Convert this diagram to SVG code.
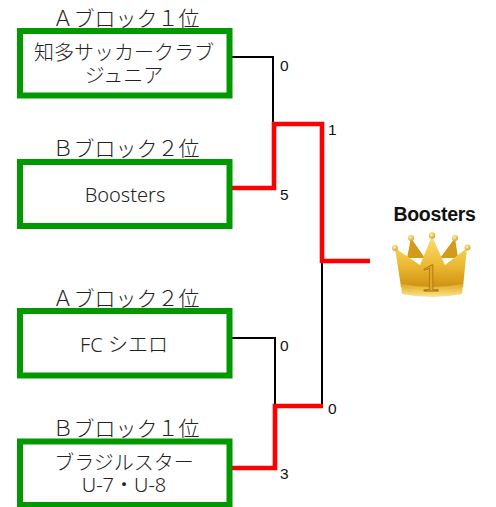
<svg xmlns="http://www.w3.org/2000/svg" width="496" height="507" viewBox="0 0 496 507">
<defs>
<style>
.box{fill:#fff;stroke:#009900;stroke-width:6}
.lbl{font-family:"Noto Sans","Noto Sans CJK JP",sans-serif;font-size:21px;font-weight:300;fill:#222;text-anchor:middle}
.tx{font-family:"Noto Sans","Noto Sans CJK JP",sans-serif;font-size:20px;font-weight:300;fill:#222;text-anchor:middle}
.sc{font-family:"Liberation Sans",Arial,sans-serif;font-size:15.5px;fill:#111}
.blk{fill:none;stroke:#000;stroke-width:2}
.red{fill:none;stroke:#ff0000;stroke-width:4.6;stroke-linejoin:miter}
.ball{fill:url(#ball)}
</style>
<linearGradient id="gold" x1="0" y1="0" x2="0" y2="1">
<stop offset="0" stop-color="#fbe07a"/>
<stop offset="0.55" stop-color="#edbb34"/>
<stop offset="1" stop-color="#cf9212"/>
</linearGradient>
<linearGradient id="band" x1="0" y1="0" x2="0" y2="1">
<stop offset="0" stop-color="#e2a823"/>
<stop offset="1" stop-color="#fbe48e"/>
</linearGradient>
<radialGradient id="ball" cx="0.4" cy="0.35" r="0.7">
<stop offset="0" stop-color="#fff2b0"/>
<stop offset="1" stop-color="#d89e1a"/>
</radialGradient>
</defs>
<rect width="496" height="507" fill="#fff"/>

<g id="connectors">
<polyline class="blk" points="232,57 273,57 273,124"/>
<polyline class="blk" points="232,338 275,338 275,406"/>
<polyline class="blk" points="322,261 322,406"/>
<polyline class="red" points="232,188 274,188 274,124 322,124 322,261 370,261"/>
<polyline class="red" points="232,468 275,468 275,406 323,406"/>
</g>

<g id="scores">
<text class="sc" x="280" y="70.5">0</text>
<text class="sc" x="328" y="135">1</text>
<text class="sc" x="280" y="200">5</text>
<text class="sc" x="280" y="350.5">0</text>
<text class="sc" x="328" y="414">0</text>
<text class="sc" x="280" y="479">3</text>
</g>

<g id="node-a1">
<text class="lbl" x="126" y="26">Ａブロック１位</text>
<rect class="box" x="20" y="31" width="209.5" height="64.5"/>
<text class="tx"><tspan x="124" y="60">知多サッカークラブ</tspan><tspan x="124" y="83">ジュニア</tspan></text>
</g>

<g id="node-b2">
<text class="lbl" x="126" y="156">Ｂブロック２位</text>
<rect class="box" x="20" y="162" width="209.5" height="64"/>
<text class="tx" x="125" y="201.5">Boosters</text>
</g>

<g id="node-a2">
<text class="lbl" x="126" y="306">Ａブロック２位</text>
<rect class="box" x="20" y="311" width="209.5" height="64.5"/>
<text class="tx" x="124" y="351.5">FC シエロ</text>
</g>

<g id="node-b1">
<text class="lbl" x="126" y="436">Ｂブロック１位</text>
<rect class="box" x="20" y="441.5" width="209.5" height="63.5"/>
<text class="tx"><tspan x="124" y="470">ブラジルスター</tspan><tspan x="124" y="492">U-7・U-8</tspan></text>
</g>

<g id="winner">
<text x="434.5" y="220.5" font-family="Liberation Sans, Arial, sans-serif" font-size="19.5" font-weight="bold" fill="#111" text-anchor="middle" letter-spacing="-0.3">Boosters</text>
<g id="crown">
<path d="M407,258 L411,238 L425,258 Z M440,258 L455,238 L458,258 Z" fill="#d39a1c"/>
<path d="M401,287 L395,248 L420,265 L432,236 L445,265 L467,248 L463,287 Z" fill="url(#gold)"/>
<path d="M401,284 Q432,290 463,284 L462,294 Q432,300 402,294 Z" fill="url(#band)"/>
<circle class="ball" cx="395" cy="248" r="3"/>
<circle class="ball" cx="411" cy="238" r="3"/>
<circle class="ball" cx="432" cy="235.5" r="3.2"/>
<circle class="ball" cx="455" cy="238" r="3"/>
<circle class="ball" cx="467.5" cy="247.5" r="3"/>
<text x="430.5" y="291" font-family="Liberation Serif, Times New Roman, serif" font-size="40" fill="#e2aa28" stroke="#a97508" stroke-width="0.8" text-anchor="middle">1</text>
</g>
</g>
</svg>
